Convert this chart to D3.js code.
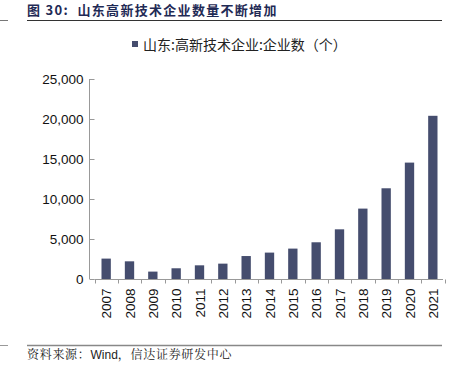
<!DOCTYPE html>
<html>
<head>
<meta charset="utf-8">
<script src="https://cdn.jsdelivr.net/npm/d3@7"></script>
<style>
  body { margin: 0; background: #fff; }
  svg text { font-family: "Liberation Sans", Arial, sans-serif; }
</style>
</head>
<body>
<div id="chart"></div>
<script>
// data
const years = ["2007", "2008", "2009", "2010", "2011", "2012", "2013", "2014",
               "2015", "2016", "2017", "2018", "2019", "2020", "2021"];
const companies = [2550, 2210, 925, 1340, 1710, 1920, 2870, 3300,
                   3800, 4590, 6210, 8800, 11340, 14550, 20400];
const yTicks = [0, 5000, 10000, 15000, 20000, 25000];

const width = 460;
const height = 372;
const barColor = "#454d6e";

const svg = d3.select("#chart")
    .append("svg")
    .attr("width", width)
    .attr("height", height);

// title + rules
svg.append("text")
    .attr("x", 27)
    .attr("y", 14.5)
    .attr("fill", "#1f2a55")
    .style("font-size", "13px")
    .style("font-weight", "bold")
    .style("letter-spacing", "1.3px")
    .style("font-family", "'Noto Sans CJK SC', sans-serif")
    .style("white-space", "pre")
    .text("图 30:  山东高新技术企业数量不断增加");

svg.append("line").attr("x1", 27).attr("x2", 442).attr("y1", 20.5).attr("y2", 20.5)
    .attr("stroke", "#333").attr("stroke-width", 1);
svg.append("line").attr("x1", 0).attr("x2", 8).attr("y1", 20.5).attr("y2", 20.5)
    .attr("stroke", "#777").attr("stroke-width", 1);

svg.append("line").attr("x1", 27).attr("x2", 442).attr("y1", 345.5).attr("y2", 345.5)
    .attr("stroke", "#888").attr("stroke-width", 1.5);
svg.append("line").attr("x1", 0).attr("x2", 8).attr("y1", 345.5).attr("y2", 345.5)
    .attr("stroke", "#999").attr("stroke-width", 1);

const src = svg.append("text")
    .attr("x", 27)
    .attr("y", 359)
    .attr("fill", "#222")
    .style("font-size", "12px")
    .style("letter-spacing", "0.7px")
    .style("font-family", "'Noto Serif CJK SC', 'Noto Sans CJK SC', serif");
src.append("tspan").text("资料来源：");
src.append("tspan").style("font-family", "'Liberation Sans', Arial, sans-serif")
    .style("letter-spacing", "0px").text("Wind");
src.append("tspan").text("，信达证券研发中心");

// legend
svg.append("rect")
    .attr("x", 132).attr("y", 41).attr("width", 6).attr("height", 6)
    .attr("fill", barColor);
svg.append("text")
    .attr("x", 143)
    .attr("y", 49.5)
    .attr("fill", "#222")
    .style("font-size", "14px")
    .style("font-family", "'Noto Sans CJK SC', sans-serif")
    .text("山东:高新技术企业:企业数（个）");

// scales
const xScale = d3.scaleBand()
    .domain(years)
    .range([94.5, 444.5])
    .paddingInner(0.6)
    .paddingOuter(0.3);

const yScale = d3.scaleLinear()
    .domain([0, 25000])
    .range([279, 79]);

svg.selectAll("rect.bar")
    .data(companies)
    .enter()
    .append("rect")
    .attr("class", "bar")
    .attr("x", (d, i) => xScale(years[i]))
    .attr("y", d => yScale(d))
    .attr("width", xScale.bandwidth())
    .attr("height", d => yScale(0) - yScale(d))
    .attr("fill", barColor);

// y axis
const yAxis = d3.axisLeft(yScale)
    .tickValues(yTicks)
    .tickSize(5)
    .tickPadding(6)
    .tickFormat(d3.format(","));

const gy = svg.append("g")
    .attr("transform", "translate(94.5,0)")
    .call(yAxis);
gy.select(".domain").attr("stroke", "#999").attr("d", "M-5,79V279");
gy.selectAll(".tick line").attr("stroke", "#999");
gy.selectAll(".tick text").attr("fill", "#111").style("font-size", "13.5px");

// x axis: ticks between categories
const gx = svg.append("g")
    .attr("transform", "translate(0,279.5)");
gx.append("line")
    .attr("x1", 94.5).attr("x2", 443)
    .attr("stroke", "#999");
const step = xScale.step();
gx.selectAll("line.tk")
    .data(d3.range(years.length + 1))
    .enter()
    .append("line")
    .attr("class", "tk")
    .attr("x1", i => Math.round(94.5 + i * step) + 0.5)
    .attr("x2", i => Math.round(94.5 + i * step) + 0.5)
    .attr("y1", 0).attr("y2", 4)
    .attr("stroke", "#999");
gx.selectAll("text")
    .data(years)
    .enter()
    .append("text")
    .attr("transform", d => `translate(${xScale(d) + xScale.bandwidth() / 2 + 5},9) rotate(-90)`)
    .attr("text-anchor", "end")
    .attr("fill", "#111")
    .style("font-size", "13.5px")
    .text(d => d);
</script>
</body>
</html>
